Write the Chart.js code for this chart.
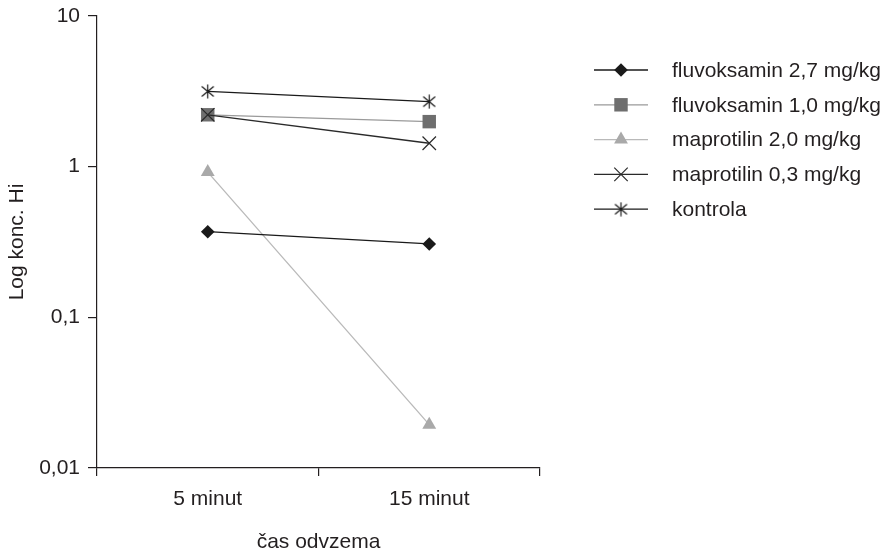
<!DOCTYPE html>
<html>
<head>
<meta charset="utf-8">
<script src="https://cdn.jsdelivr.net/npm/chart.js@4"></script>
<style>
  html, body { margin: 0; padding: 0; background: #ffffff; }
  canvas { display: block; }
</style>
</head>
<body>
<canvas id="c" width="886" height="553"></canvas>
<script>
const categories = ['5 minut', '15 minut'];
const seriesNames = ['fluvoksamin 2,7 mg/kg', 'fluvoksamin 1,0 mg/kg', 'maprotilin 2,0 mg/kg', 'maprotilin 0,3 mg/kg', 'kontrola'];
const fluvoksamin27 = [0.37, 0.307];
const fluvoksamin10 = [2.21, 1.99];
const maprotilin20 = [0.92, 0.0194];
const maprotilin03 = [2.21, 1.43];
const kontrola = [3.16, 2.70];
const yTickValues = [0.01, 0.1, 1, 10];
const yTickLabels = ['0,01', '0,1', '1', '10'];
const xTitle = 'čas odvzema';
const yTitle = 'Log konc. Hi';

const FONT = 'Liberation Sans, Arial, sans-serif';
const FS = 21;
const TXT = '#231f20';

// asterisk marker (X + vertical bar)
function makeAsterisk(color) {
  const c = document.createElement('canvas');
  c.width = 15; c.height = 15;
  const g = c.getContext('2d');
  g.strokeStyle = color; g.lineWidth = 1.2; g.lineCap = 'butt';
  g.beginPath();
  g.moveTo(7.5, 0.5); g.lineTo(7.5, 14.5);
  g.moveTo(1.5, 2.5); g.lineTo(13.5, 12.5);
  g.moveTo(13.5, 2.5); g.lineTo(1.5, 12.5);
  g.stroke();
  return c;
}
const asterisk = makeAsterisk('#1a1a1a');

const values = [fluvoksamin27, fluvoksamin10, maprotilin20, maprotilin03, kontrola];
const styles = [
  { line: '#1a1a1a', fill: '#1a1a1a', pt: 'rectRot', r: 6.8, bw: 0, order: 2 },
  { line: '#9a9a9a', fill: '#6e6e6e', pt: 'rect', r: 9.5, bw: 0, order: 3 },
  { line: '#b9b9b9', fill: '#a9a9a9', pt: 'triangle', r: 8, bw: 0, order: 4 },
  { line: '#2a2a2a', fill: '#2a2a2a', pt: 'crossRot', r: 9.5, bw: 1.2, order: 1 },
  { line: '#1a1a1a', fill: '#1a1a1a', pt: asterisk, r: 7.5, bw: 1.2, order: 0 }
];

const datasets = values.map((v, i) => ({
  label: seriesNames[i],
  data: v,
  borderColor: styles[i].line,
  backgroundColor: styles[i].fill,
  pointBackgroundColor: styles[i].fill,
  pointBorderColor: styles[i].fill,
  pointBorderWidth: styles[i].bw,
  pointStyle: styles[i].pt,
  pointRadius: styles[i].r,
  pointHoverRadius: styles[i].r,
  borderWidth: 1.3,
  tension: 0,
  fill: false,
  order: styles[i].order,
  clip: false
}));

const legendPlugin = {
  id: 'customLegend',
  afterDraw(chart) {
    const ctx = chart.ctx;
    ctx.save();
    chart.data.datasets.forEach((ds, i) => {
      const y = 70 + i * 34.8;
      ctx.strokeStyle = ds.borderColor;
      ctx.lineWidth = 1.3;
      ctx.beginPath();
      ctx.moveTo(594, y); ctx.lineTo(648, y);
      ctx.stroke();
      ctx.fillStyle = ds.pointBackgroundColor;
      ctx.strokeStyle = ds.pointBorderColor;
      ctx.lineWidth = ds.pointBorderWidth;
      Chart.helpers.drawPoint(ctx, { pointStyle: ds.pointStyle, radius: ds.pointRadius, rotation: 0, borderWidth: ds.pointBorderWidth }, 621, y);
      ctx.fillStyle = TXT;
      ctx.font = FS + 'px ' + FONT;
      ctx.textBaseline = 'middle';
      ctx.textAlign = 'left';
      ctx.fillText(ds.label, 672, y + 1);
    });
    ctx.restore();
  }
};

new Chart(document.getElementById('c'), {
  type: 'line',
  data: { labels: categories, datasets },
  plugins: [legendPlugin],
  options: {
    responsive: false,
    animation: false,
    events: [],
    layout: { padding: { left: 0, top: 16, right: 346, bottom: 0 } },
    plugins: { legend: { display: false }, tooltip: { enabled: false } },
    scales: {
      x: {
        type: 'category',
        offset: true,
        grid: { offset: true, drawOnChartArea: false, drawTicks: true, tickLength: 8, color: '#231f20', lineWidth: 1.2 },
        border: { display: true, color: '#231f20', width: 1.2 },
        ticks: { color: TXT, font: { family: FONT, size: FS }, padding: 11, maxRotation: 0 },
        title: { display: true, text: xTitle, color: TXT, font: { family: FONT, size: FS, lineHeight: 1.0 }, padding: { top: 0, bottom: 0 } },
        afterFit(scale) { scale.height = 85; scale.paddingLeft = 0; scale.paddingRight = 0; }
      },
      y: {
        type: 'logarithmic',
        min: 0.01,
        max: 10,
        afterBuildTicks(scale) { scale.ticks = yTickValues.map(v => ({ value: v })); },
        grid: { drawOnChartArea: false, drawTicks: true, tickLength: 9, color: '#231f20', lineWidth: 1.2 },
        border: { display: true, color: '#231f20', width: 1.2 },
        ticks: {
          color: TXT, font: { family: FONT, size: FS }, padding: 8, autoSkip: false,
          callback(value) { const k = yTickValues.indexOf(value); return k >= 0 ? yTickLabels[k] : ''; }
        },
        title: { display: true, text: yTitle, color: TXT, font: { family: FONT, size: FS }, padding: { top: 5, bottom: 0 } },
        afterFit(scale) { scale.width = 97; scale.paddingTop = 0; scale.paddingBottom = 0; }
      }
    }
  }
});
</script>
</body>
</html>
